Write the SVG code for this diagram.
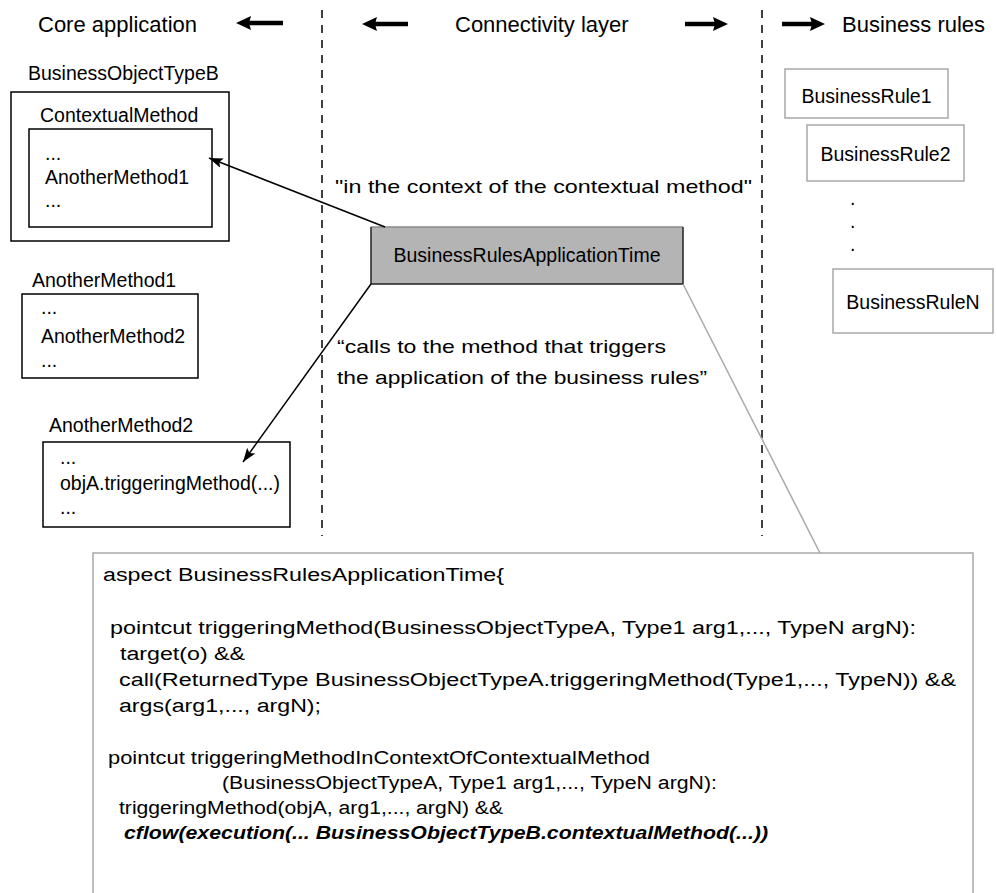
<svg xmlns="http://www.w3.org/2000/svg" width="997" height="893" viewBox="0 0 997 893">
  <style>
    text { font-family: "Liberation Sans", Arial, Helvetica, sans-serif; fill: #000; }
    .hd { font-size: 22px; }
    .lb { font-size: 19.5px; }
    .q { font-size: 19px; }
    .code { font-size: 18px; }
    .bi { font-weight: bold; font-style: italic; }
    .box { fill: #fff; stroke: #000; stroke-width: 1.5; }
    .rule { fill: #fff; stroke: #a8a8a8; stroke-width: 1.5; }
    .dash { stroke: #000; stroke-width: 1.5; stroke-dasharray: 8 7; fill: none; }
    .conn { stroke: #000; stroke-width: 1.5; fill: none; }
    .thick { stroke: #000; stroke-width: 4.5; fill: none; }
  </style>
  <defs>
    <marker id="ah" viewBox="0 0 14 10" refX="14" refY="5" markerWidth="14" markerHeight="10" orient="auto" markerUnits="userSpaceOnUse">
      <path d="M0,0 L14,5 L0,10 L3,5 z" fill="#000"/>
    </marker>
    <marker id="bh" viewBox="0 0 15 14" refX="4" refY="7" markerWidth="15" markerHeight="14" orient="auto" markerUnits="userSpaceOnUse">
      <path d="M0,0 L15,7 L0,14 L2,7 z" fill="#000"/>
    </marker>
  </defs>

  <!-- layer headings -->
  <g id="headings">
    <text class="hd" x="38" y="32">Core application</text>
    <text class="hd" x="455" y="32">Connectivity layer</text>
    <text class="hd" x="842" y="32">Business rules</text>
    <line class="thick" x1="283" y1="23" x2="247" y2="23" marker-end="url(#bh)"/>
    <line class="thick" x1="408" y1="24" x2="373" y2="24" marker-end="url(#bh)"/>
    <line class="thick" x1="685" y1="24" x2="717" y2="24" marker-end="url(#bh)"/>
    <line class="thick" x1="782" y1="24" x2="814" y2="24" marker-end="url(#bh)"/>
  </g>

  <!-- layer separators -->
  <g id="separators">
    <line class="dash" x1="322" y1="10" x2="322" y2="536"/>
    <line class="dash" x1="762" y1="10" x2="762" y2="536"/>
  </g>

  <!-- core application -->
  <g id="businessObjectTypeB">
    <text class="lb" x="28" y="80">BusinessObjectTypeB</text>
    <rect class="box" x="11" y="92" width="218" height="149"/>
  </g>
  <g id="contextualMethod">
    <text class="lb" x="40" y="122">ContextualMethod</text>
    <rect class="box" x="29" y="129" width="183" height="98"/>
    <text class="lb" x="45" y="160">...</text>
    <text class="lb" x="45" y="184">AnotherMethod1</text>
    <text class="lb" x="45" y="207">...</text>
  </g>
  <g id="anotherMethod1">
    <text class="lb" x="32" y="287">AnotherMethod1</text>
    <rect class="box" x="22" y="294" width="176" height="84"/>
    <text class="lb" x="41" y="314">...</text>
    <text class="lb" x="41" y="343">AnotherMethod2</text>
    <text class="lb" x="41" y="367">...</text>
  </g>
  <g id="anotherMethod2">
    <text class="lb" x="49" y="432">AnotherMethod2</text>
    <rect class="box" x="43" y="442" width="247" height="85"/>
    <text class="lb" x="60" y="464">...</text>
    <text class="lb" x="60" y="490">objA.triggeringMethod(...)</text>
    <text class="lb" x="60" y="514">...</text>
  </g>

  <!-- connectivity layer -->
  <g id="businessRulesApplicationTime">
    <rect x="371" y="227" width="312" height="57" fill="#b4b4b4" stroke="none"/>
    <path d="M371,227 H683" stroke="#8a8a8a" stroke-width="1.5" fill="none"/>
    <path d="M371,227 V284 H683 V227" stroke="#222" stroke-width="1.5" fill="none"/>
    <text class="lb" x="527" y="262" text-anchor="middle">BusinessRulesApplicationTime</text>
  </g>
  <g id="labels">
    <text class="q" x="335" y="193" textLength="417" lengthAdjust="spacingAndGlyphs">"in the context of the contextual method"</text>
    <text class="q" x="337" y="353" textLength="329" lengthAdjust="spacingAndGlyphs">“calls to the method that triggers</text>
    <text class="q" x="337" y="384" textLength="370" lengthAdjust="spacingAndGlyphs">the application of the business rules”</text>
  </g>

  <!-- business rules -->
  <g id="businessRule1">
    <rect class="rule" x="785" y="69" width="163" height="49"/>
    <text class="lb" x="866.5" y="103" text-anchor="middle">BusinessRule1</text>
  </g>
  <g id="businessRule2">
    <rect class="rule" x="807" y="125" width="157" height="56"/>
    <text class="lb" x="885.5" y="161" text-anchor="middle">BusinessRule2</text>
  </g>
  <g id="ellipsis">
    <text class="lb" x="850" y="205">.</text>
    <text class="lb" x="850" y="228">.</text>
    <text class="lb" x="850" y="251">.</text>
  </g>
  <g id="businessRuleN">
    <rect class="rule" x="833" y="269" width="160" height="64"/>
    <text class="lb" x="913" y="309" text-anchor="middle">BusinessRuleN</text>
  </g>

  <!-- aspect source -->
  <g id="aspectCode">
    <rect x="93" y="553" width="880" height="360" fill="#fff" stroke="#a8a8a8" stroke-width="1.5"/>
    <text class="code" x="103" y="581" textLength="401" lengthAdjust="spacingAndGlyphs">aspect BusinessRulesApplicationTime{</text>
    <text class="code" x="110" y="634" textLength="806" lengthAdjust="spacingAndGlyphs">pointcut triggeringMethod(BusinessObjectTypeA, Type1 arg1,..., TypeN argN):</text>
    <text class="code" x="120" y="660" textLength="125" lengthAdjust="spacingAndGlyphs">target(o) &amp;&amp;</text>
    <text class="code" x="119" y="686" textLength="837" lengthAdjust="spacingAndGlyphs">call(ReturnedType BusinessObjectTypeA.triggeringMethod(Type1,..., TypeN)) &amp;&amp;</text>
    <text class="code" x="119" y="712" textLength="202" lengthAdjust="spacingAndGlyphs">args(arg1,..., argN);</text>
    <text class="code" x="108" y="764" textLength="542" lengthAdjust="spacingAndGlyphs">pointcut triggeringMethodInContextOfContextualMethod</text>
    <text class="code" x="222" y="789" textLength="495" lengthAdjust="spacingAndGlyphs">(BusinessObjectTypeA, Type1 arg1,..., TypeN argN):</text>
    <text class="code" x="119" y="814" textLength="384" lengthAdjust="spacingAndGlyphs">triggeringMethod(objA, arg1,..., argN) &amp;&amp;</text>
    <text class="code bi" x="124" y="839" textLength="644" lengthAdjust="spacingAndGlyphs">cflow(execution(... BusinessObjectTypeB.contextualMethod(...))</text>
  </g>

  <!-- connectors -->
  <g id="connectors">
    <line class="conn" x1="385" y1="227" x2="209" y2="158" marker-end="url(#ah)"/>
    <line class="conn" x1="371" y1="284" x2="243" y2="462" marker-end="url(#ah)"/>
    <line x1="683" y1="284" x2="820" y2="553" stroke="#a8a8a8" stroke-width="1.5"/>
  </g>
</svg>
